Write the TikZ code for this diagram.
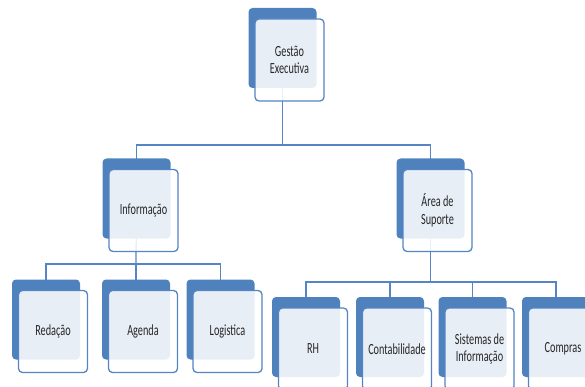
\documentclass[tikz,border=0pt]{standalone}
\usepackage{fontspec}
\setmainfont{Carlito}[FakeStretch=0.66]
\definecolor{boxblue}{HTML}{4F81BD}
\definecolor{linkblue}{HTML}{5585C4}
\definecolor{labelgray}{HTML}{262626}
\tikzset{
  backbox/.style={rectangle, rounded corners=4pt, fill=boxblue, draw=none,
    minimum width=68pt, minimum height=80pt, inner sep=0pt},
  frontbox/.style={rectangle, rounded corners=4pt, draw=linkblue, line width=1.3pt,
    fill=white, fill opacity=0.87, text opacity=1, text=labelgray,
    minimum width=69pt, minimum height=82pt, inner sep=1pt, align=center,
    font=\fontsize{15.5}{17.5}\selectfont},
  link/.style={draw=linkblue, line width=1.3pt}
}
% place a unit: back card up and to the left of the front card, which holds the label
\newcommand{\orgunit}[4]{%
  \node[backbox] (#1b) at (#2-7,#3-12) {};
  \node[frontbox] (#1) at (#2,#3) {#4};
}
\begin{document}
\begin{tikzpicture}[x=1pt,y=-1pt]
\useasboundingbox (0,0) rectangle (585,387);
\clip (0,0) rectangle (585,387);
% junction points of the connector bars
\coordinate (j1) at (282.5,145);
\coordinate (j2) at (136,264);
\coordinate (j3) at (430.5,282);
% centres of the back cards, where the connectors end
\coordinate (gc) at (282.5,48);
\coordinate (ic) at (136.5,198.5);
\coordinate (ac) at (430.5,198.5);
\coordinate (rc) at (46,319.5);
\coordinate (agc) at (136,319.5);
\coordinate (lc) at (220.5,319.5);
\coordinate (rhc) at (306,337);
\coordinate (ctc) at (390,337);
\coordinate (sic) at (472.5,337);
\coordinate (cpc) at (556,337);
% connectors, drawn first so the cards sit above them
\draw[link] (gc) -- (j1);
\draw[link] (ic) |- (j1) -| (ac);
\draw[link] (ic) -- (j2);
\draw[link] (rc) |- (j2) -| (lc);
\draw[link] (agc) -- (j2);
\draw[link] (ac) -- (j3);
\draw[link] (rhc) |- (j3) -| (cpc);
\draw[link] (ctc) |- (j3);
\draw[link] (sic) |- (j3);
% cards
\orgunit{ge}{289.5}{60}{Gestão\\Executiva}
\orgunit{inf}{143.5}{210.5}{Informação}
\orgunit{as}{437.5}{210.5}{Área de\\Suporte}
\orgunit{red}{53}{331.5}{Redação}
\orgunit{age}{143}{331.5}{Agenda}
\orgunit{log}{227.5}{331.5}{Logistica}
\orgunit{rh}{313}{349}{RH}
\orgunit{con}{397}{349}{Contabilidade}
\orgunit{sis}{479.5}{349}{Sistemas de\\Informação}
\orgunit{com}{563}{349}{Compras}
\end{tikzpicture}
\end{document}
